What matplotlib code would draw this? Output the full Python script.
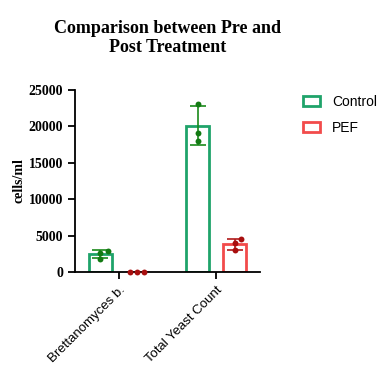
import matplotlib
matplotlib.use("Agg")
import matplotlib.pyplot as plt
import numpy as np
from matplotlib.patches import Patch
from matplotlib.transforms import ScaledTranslation

categories = ["Brettanomyces b.", "Total Yeast Count"]
series = ["Control", "PEF"]
control_points = [[2880, 2650, 1790], [23080, 19140, 18040]]
pef_points = [[0, 0, 0], [4490, 3940, 3020]]
yticks = [0, 5000, 10000, 15000, 20000, 25000]

edge_colors = ["#1fa36a", "#f24b4b"]
point_colors = ["#137a13", "#a80f0f"]
err_colors = ["#1a8a1a", "#b01a1a"]
# horizontal scatter of replicate dots (style only)
jitters = {
    (0, 0): [0.075, 0.0, 0.0],
    (0, 1): [0.0, 0.0, 0.0],
    (1, 0): [-0.07, 0.0, 0.07],
    (1, 1): [0.07, 0.0, 0.0],
}

fig = plt.figure(figsize=(3.81, 3.67), dpi=100)
ax = fig.add_axes([0.197, 0.259, 0.485, 0.496])

x = np.arange(len(categories))
width = 0.24
offsets = [-0.19, 0.19]
for si, pts in enumerate([control_points, pef_points]):
    arr = np.array(pts, dtype=float)
    means = arr.mean(axis=1)
    sds = arr.std(axis=1, ddof=1)
    xs = x + offsets[si]
    ax.bar(xs, means, width=width, facecolor="none", edgecolor=edge_colors[si],
           linewidth=2.0, zorder=2)
    for i in range(len(categories)):
        if sds[i] > 0:
            ax.errorbar(xs[i], means[i], yerr=sds[i], color=err_colors[si],
                        capsize=6, elinewidth=1.2, capthick=1.2, zorder=3)
        ax.scatter(xs[i] + np.array(jitters[(si, i)]), arr[i], s=18,
                   color=point_colors[si], zorder=4, clip_on=False,
                   linewidths=0)

ax.set_xlim(-0.45, 1.45)
ax.set_ylim(0, 25000)
ax.set_yticks(yticks)
ax.set_yticklabels([str(t) for t in yticks], fontfamily="Liberation Serif",
                   fontweight="bold", fontsize=10)
ax.set_xticks(x)
ax.set_xticklabels(categories, rotation=45, ha="right", rotation_mode="anchor",
                   fontfamily="Liberation Sans", fontsize=9.5)
shift = ScaledTranslation(-3 / 100, -9 / 100, fig.dpi_scale_trans)
for lab in ax.get_xticklabels():
    lab.set_transform(lab.get_transform() + shift)
ax.spines["top"].set_visible(False)
ax.spines["right"].set_visible(False)
ax.spines["left"].set_linewidth(1.3)
ax.spines["bottom"].set_linewidth(1.3)
ax.tick_params(axis="both", width=1.3, length=5)
ax.set_ylabel("cells/ml", fontfamily="Liberation Serif", fontweight="bold",
              fontsize=10, labelpad=2)
ax.set_title("Comparison between Pre and\nPost Treatment",
             fontfamily="Liberation Serif", fontweight="bold", fontsize=13,
             pad=27)

handles = [Patch(facecolor="none", edgecolor=c, linewidth=2.0) for c in edge_colors]
fig.legend(handles, series, loc="upper left", bbox_to_anchor=(0.795, 0.742),
           frameon=False, prop={"family": "Liberation Sans", "size": 10},
           handlelength=1.2, handleheight=0.7, handletextpad=0.9,
           labelspacing=0.9, borderpad=0, borderaxespad=0)

fig.savefig("out.png", dpi=100)
